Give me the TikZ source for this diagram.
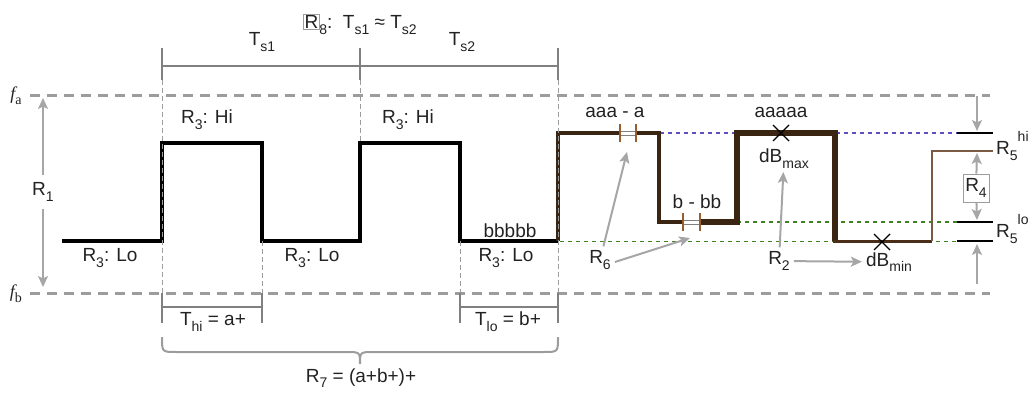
\documentclass[tikz,border=0pt]{standalone}
\usepackage{fontspec}
\setmainfont{Liberation Sans}
\newfontfamily\seriffont{Liberation Serif}
\usetikzlibrary{arrows.meta}
\definecolor{txt}{HTML}{222222}
\definecolor{guide}{HTML}{9C9C9C}
\definecolor{brk}{HTML}{808080}
\definecolor{arrc}{HTML}{A6A6A6}
\definecolor{bdark}{HTML}{3A2412}
\definecolor{bmid}{HTML}{4A2E1A}
\definecolor{blight}{HTML}{7A5A42}
\definecolor{btick}{HTML}{9A5E2E}
\definecolor{blued}{HTML}{5E4EBE}
\definecolor{greend}{HTML}{3F8420}
\newcommand{\lsub}[1]{\raisebox{-0.3em}{\fontsize{14}{14}\selectfont #1}}
\newcommand{\lsup}[1]{\raisebox{0.7em}{\fontsize{14}{14}\selectfont #1}}
\setlength{\fboxsep}{0.8pt}
\setlength{\fboxrule}{0.6pt}
\begin{document}
\begin{tikzpicture}[x=1pt,y=-1pt,
  lbl/.style={inner sep=1pt, text=txt, font=\fontsize{19}{22}\selectfont},
  flevel/.style={draw=guide, line width=3pt, dash pattern=on 10pt off 7pt},
  vguide/.style={draw=guide, line width=0.8pt, dash pattern=on 5pt off 3pt},
  brkt/.style={draw=brk, line width=1.3pt},
  wave/.style={draw=black, line width=4pt, miter limit=10},
  arr/.style={draw=arrc, line width=2pt, -{Stealth[length=11pt,width=10pt,inset=2.5pt]}},
  gapbox/.style={draw=brk, line width=0.5pt, fill=white},
  gaptick/.style={draw=btick, line width=1.6pt},
  xmark/.style={draw=black, line width=1.4pt},
  rtick/.style={draw=black, line width=1.6pt},
  refdash/.style={line width=1.2pt, dash pattern=on 4pt off 4pt},
]
\useasboundingbox (0,0) rectangle (1034,393);

% level lines
\coordinate (fa0) at (30,96);  \coordinate (fa1) at (990,96);
\coordinate (fb0) at (30,293); \coordinate (fb1) at (990,293);
\draw[flevel] (fa0) -- (fa1);
\draw[flevel] (fb0) -- (fb1);
\node[text=txt, inner sep=0pt, font=\fontsize{18}{20}\selectfont] (fa) at (16,96) {\seriffont\itshape f\lsub{\upshape a}};
\node[text=txt, inner sep=0pt, font=\fontsize{18}{20}\selectfont] (fb) at (16,294) {\seriffont\itshape f\lsub{\upshape b}};

% coloured reference lines
\draw[blued, refdash] (636,133) -- (958,133);
\draw[greend, refdash] (737,222) -- (958,222);
\draw[greend, refdash] (560,241.5) -- (958,241.5);

% black square wave
\draw[wave] (62,241) -- (162,241) -- (162,143) -- (262,143) -- (262,241) -- (360,241)
  -- (360,143) -- (460,143) -- (460,241) -- (558,241);

% brown wave
\draw[bdark, line width=4pt, miter limit=10] (558,241) -- (558,133) -- (620,133);
\draw[bdark, line width=4.5pt, miter limit=10] (636,133) -- (659,133) -- (659,222) -- (683,222);
\draw[bdark, line width=5.5pt, miter limit=10] (700,222) -- (737,222) -- (737,133) -- (835,133) -- (835,241);
\draw[bmid, line width=3pt] (833,241) -- (932,241);
\draw[blight, line width=2pt, miter limit=10] (932,241) -- (932,151) -- (993,151);

% gap markers
\draw[gapbox] (620,131) rectangle (636,135);
\draw[gaptick] (620,124) -- (620,142);
\draw[gaptick] (636,124) -- (636,142);
\draw[gapbox] (683,220) rectangle (700,224);
\draw[gaptick] (683,213) -- (683,231);
\draw[gaptick] (700,213) -- (700,231);

% cross marks
\draw[xmark] (773,125) -- (789,141) (773,141) -- (789,125);
\draw[xmark] (874,234) -- (890,250) (874,250) -- (890,234);

% R5 ticks
\draw[rtick] (957,133) -- (993,133);
\draw[rtick] (957,222) -- (993,222);
\draw[rtick] (957,241) -- (993,241);

% top bracket
\draw[brkt] (162,48) -- (162,80) (360,48) -- (360,80) (558,48) -- (558,80) (162,66) -- (558,66);
% vertical guides
\draw[vguide] (162,80) -- (162,293);
\draw[vguide] (360,80) -- (360,143);
\draw[vguide] (558,80) -- (558,293);
\draw[vguide] (262,241) -- (262,293);
\draw[vguide] (460,241) -- (460,293);
% bottom brackets
\draw[brkt] (162,293) -- (162,323) (262,293) -- (262,323) (162,307) -- (262,307);
\draw[brkt] (460,293) -- (460,323) (558,293) -- (558,323) (460,307) -- (558,307);
% brace
\draw[draw=guide, line width=2pt]
  (162,337) .. controls (162,352) .. (176,352) -- (346,352) .. controls (360,352) .. (360,364)
  .. controls (360,352) .. (374,352) -- (544,352) .. controls (558,352) .. (558,337);

% labels top
\node[lbl] (title) at (360,24) {{\color{guide}\fbox{\color{txt}R}}\hspace{-0.5pt}\lsub{8}:\ \ T\lsub{s1} ≈ T\lsub{s2}};
\node[lbl] (ts1) at (262,42) {T\lsub{s1}};
\node[lbl] (ts2) at (462,42) {T\lsub{s2}};

% R1
\node[lbl, inner sep=7pt] (r1) at (43,192) {R\lsub{1}};
\coordinate (r1top) at (43,98);
\coordinate (r1bot) at (43,287);
\draw[arr] (r1) -- (r1top);
\draw[arr] (r1) -- (r1bot);

% R3 labels
\node[lbl] (hi1) at (207,120) {R\lsub{3}: Hi};
\node[lbl] (hi2) at (408,120) {R\lsub{3}: Hi};
\node[lbl] (lo1) at (110,258) {R\lsub{3}: Lo};
\node[lbl] (lo2) at (312,258) {R\lsub{3}: Lo};
\node[lbl] (lo3) at (506,258) {R\lsub{3}: Lo};
\node[lbl] (bb) at (510,231) {bbbbb};

% bottom labels
\node[lbl] (thi) at (213,322) {T\lsub{hi} = a+};
\node[lbl] (tlo) at (508,322) {T\lsub{lo} = b+};
\node[lbl] (r7) at (361,378) {R\lsub{7} = (a+b+)+};

% right part labels
\node[lbl] (aaa) at (615,112) {aaa - a};
\node[lbl] (bmb) at (697,202) {b - bb};
\node[lbl] (a5) at (781,112) {aaaaa};
\node[lbl, inner sep=3pt] (dbmax) at (784,159) {dB\lsub{max}};
\node[lbl, inner sep=4pt] (dbmin) at (889,262) {dB\lsub{min}};
\node[lbl, inner sep=4pt] (r6) at (600,260) {R\lsub{6}};
\node[lbl, inner sep=4pt] (r2) at (779,261) {R\lsub{2}};
\coordinate (g1tip) at (627,152);
\coordinate (g2tip) at (690,238);
\draw[arr] (r6) -- (g1tip);
\draw[arr] (r6.east) ++(0,2) -- (g2tip);
\draw[arr] (r2) -- (dbmax);
\draw[arr] (r2) -- (dbmin);

% R4, R5
\coordinate (t5a) at (977,96);
\coordinate (t5b) at (977,131);
\draw[arr] (t5a) -- (t5b);
\node[lbl, draw=guide, line width=0.6pt, fill=white, minimum width=26pt, minimum height=28pt] (r4) at (976,188) {R\lsub{4}};
\coordinate (r4top) at (977,153);
\coordinate (r4bot) at (977,220);
\draw[arr] (r4) -- (r4top);
\draw[arr] (r4) -- (r4bot);
\coordinate (b5a) at (977,284);
\coordinate (b5b) at (977,244);
\draw[arr] (b5a) -- (b5b);
\node[lbl, anchor=west] (r5hi) at (995,146) {R\lsub{5}\lsup{hi}};
\node[lbl, anchor=west] (r5lo) at (995,229) {R\lsub{5}\lsup{lo}};
\end{tikzpicture}
\end{document}
